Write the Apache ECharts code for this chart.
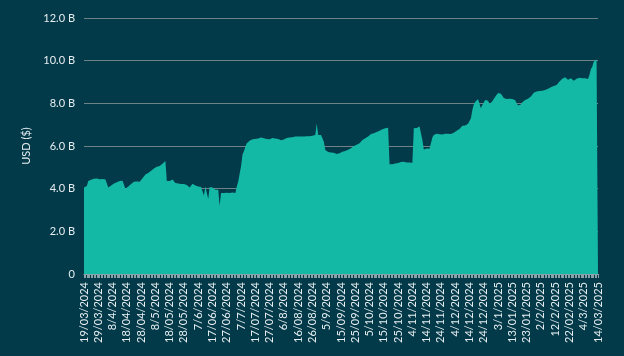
<!DOCTYPE html>
<html>
<head>
<meta charset="utf-8">
<script src="https://cdn.jsdelivr.net/npm/echarts@6/dist/echarts.min.js"></script>
<style>
html,body{margin:0;padding:0;background:#033a4a;}
#c{width:624px;height:356px;}
</style>
</head>
<body>
<div id="c"></div>
<script>
// Daily dates from 19/03/2024 to 14/03/2025 (361 days)
const startDate = [2024, 3, 19];
const dayCount = 361;
const labelEvery = 10;
const yTicks = [0, 2, 4, 6, 8, 10, 12];
const yName = 'USD ($)';

// Values in billions USD
const values = [
4.06,4.10,4.12,4.36,4.38,4.42,4.45,4.47,4.49,4.48,
4.42,4.44,4.43,4.45,4.42,4.43,4.35,4.06,4.10,4.15,
4.20,4.24,4.27,4.30,4.33,4.36,4.40,4.37,4.43,4.00,
4.05,4.10,4.17,4.22,4.28,4.33,4.35,4.34,4.36,4.32,
4.40,4.49,4.55,4.66,4.70,4.74,4.77,4.84,4.90,4.95,
5.00,5.03,5.04,5.06,5.10,5.17,5.22,5.30,4.36,4.33,
4.36,4.40,4.43,4.35,4.27,4.25,4.24,4.23,4.22,4.24,
4.22,4.20,4.17,4.10,4.06,4.12,4.23,4.18,4.15,4.12,
4.10,4.10,4.08,4.08,3.68,4.10,4.05,3.52,4.08,4.15,
4.05,4.10,3.95,3.86,3.95,3.20,3.80,3.82,3.80,3.83,
3.81,3.78,3.80,3.84,3.82,3.78,3.80,4.10,4.33,4.70,
5.05,5.60,5.75,5.97,6.13,6.20,6.25,6.28,6.32,6.36,
6.33,6.30,6.35,6.38,6.40,6.41,6.36,6.30,6.33,6.35,
6.32,6.36,6.38,6.37,6.35,6.36,6.33,6.30,6.27,6.25,
6.30,6.36,6.38,6.40,6.40,6.42,6.41,6.43,6.44,6.43,
6.44,6.45,6.44,6.46,6.45,6.47,6.46,6.47,6.46,6.48,
6.48,6.50,6.52,7.06,6.52,6.50,6.52,6.50,6.20,5.81,
5.75,5.72,5.70,5.70,5.72,5.68,5.65,5.63,5.64,5.66,
5.70,5.73,5.72,5.76,5.80,5.83,5.86,5.90,5.95,6.00,
6.02,6.06,6.10,6.13,6.20,6.28,6.33,6.36,6.40,6.44,
6.48,6.56,6.58,6.60,6.64,6.66,6.70,6.72,6.75,6.78,
6.81,6.83,6.85,6.86,5.14,5.15,5.14,5.17,5.18,5.19,
5.20,5.22,5.25,5.24,5.26,5.25,5.23,5.24,5.23,5.23,
5.22,6.83,6.85,6.84,6.85,6.91,6.88,6.28,5.84,5.85,
5.88,5.86,5.87,5.86,6.40,6.52,6.56,6.58,6.56,6.55,
6.52,6.54,6.55,6.57,6.56,6.58,6.57,6.56,6.58,6.62,
6.68,6.72,6.76,6.80,6.87,6.95,6.98,6.96,6.97,7.04,
7.09,7.30,7.69,7.95,8.08,8.12,8.19,8.10,7.77,7.92,
8.00,8.16,8.17,8.12,7.97,8.05,8.10,8.20,8.31,8.40,
8.48,8.53,8.45,8.35,8.25,8.16,8.20,8.23,8.22,8.18,
8.20,8.23,8.15,8.00,7.90,7.84,7.95,8.05,8.12,8.16,
8.20,8.22,8.27,8.32,8.39,8.50,8.55,8.56,8.57,8.58,
8.60,8.59,8.60,8.62,8.63,8.68,8.70,8.75,8.80,8.81,
8.84,8.86,8.95,9.02,9.10,9.15,9.20,9.22,9.18,9.10,
9.15,9.17,9.12,9.06,9.10,9.15,9.18,9.20,9.18,9.17,
9.16,9.17,9.15,9.14,9.33,9.60,9.72,9.95,10.02,10.05,
10.05
];

function fmtDate(d) {
  const day = d.getUTCDate(), mon = d.getUTCMonth() + 1, yr = d.getUTCFullYear();
  if (day <= 12) return day + '/' + mon + '/' + yr;
  return day + '/' + String(mon).padStart(2, '0') + '/' + yr;
}
const categories = [];
for (let i = 0; i < dayCount; i++) {
  const d = new Date(Date.UTC(startDate[0], startDate[1] - 1, startDate[2] + i));
  categories.push(fmtDate(d));
}

const chart = echarts.init(document.getElementById('c'), null, {renderer: 'canvas'});
const textColor = '#e6eef0';
const font = 'Lato, "Noto Sans", sans-serif';
chart.setOption({
  backgroundColor: '#033a4a',
  animation: false,
  grid: {left: 84, right: 26, top: 18, bottom: 82, containLabel: false},
  xAxis: {
    type: 'category',
    data: categories,
    boundaryGap: false,
    axisLine: {show: true, lineStyle: {color: '#8aa3a8', width: 1}},
    axisTick: {show: true, interval: 0, length: 4, lineStyle: {color: '#8aa3a8'}},
    axisLabel: {
      interval: labelEvery - 1, rotate: 90, color: textColor,
      fontSize: 11, fontFamily: font, margin: 8
    },
    splitLine: {show: false}
  },
  yAxis: {
    type: 'value',
    min: yTicks[0], max: yTicks[yTicks.length - 1], interval: 2,
    name: yName, nameLocation: 'middle', nameGap: 42, nameRotate: 90,
    nameTextStyle: {color: textColor, fontSize: 11, fontFamily: font},
    axisLine: {show: false}, axisTick: {show: false},
    axisLabel: {
      color: textColor, fontSize: 11, fontFamily: font, margin: 9,
      formatter: v => v === 0 ? '0' : v.toFixed(1) + ' B'
    },
    splitLine: {lineStyle: {color: '#6e8288', width: 1}}
  },
  series: [{
    type: 'line',
    data: values,
    symbol: 'none',
    lineStyle: {width: 0},
    areaStyle: {color: '#14b9a6', opacity: 1},
    itemStyle: {color: '#14b9a6'}
  }]
});
</script>
</body>
</html>
